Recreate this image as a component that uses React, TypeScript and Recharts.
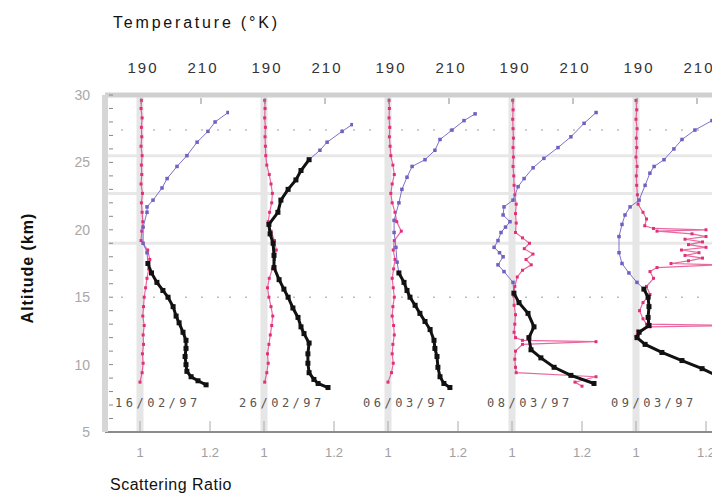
import React from "react";
import { ScatterChart, Scatter, XAxis, YAxis, ReferenceLine } from "recharts";

// one date per sounding / panel
const dates = ["16/02/97", "26/02/97", "06/03/97", "08/03/97", "09/03/97"];

const srTicks = [1, 1.2];
const tempTicks = [190, 210];
const solidGridAlts = [25.5, 22.7, 19.0];
const dottedGridAlts = [27.4, 15];

// temperature profiles (km, K)
const tempAlt1 = [28.7, 28.0, 27.3, 26.5, 25.5, 24.7, 23.8, 23.1, 22.2, 21.7, 21.3, 20.2, 19.0, 18.3, 17.5, 16.8, 16.1, 15.5, 15.0, 14.3, 13.6, 13.1, 12.4, 11.8, 11.2, 10.6, 10.0, 9.5, 9.1, 8.8, 8.5];
const temp1 = [219.0, 214.7, 212.3, 208.7, 205.3, 202.0, 198.7, 197.0, 194.0, 192.0, 192.0, 190.7, 190.7, 192.0, 192.3, 193.5, 195.3, 197.3, 199.0, 200.7, 201.7, 202.7, 204.0, 205.0, 205.0, 204.7, 205.0, 205.3, 206.7, 209.0, 211.7];

const tempAlt2 = [27.8, 27.3, 26.5, 25.9, 25.2, 24.4, 23.7, 23.0, 22.2, 21.3, 20.4, 19.7, 19.0, 18.1, 17.2, 16.3, 15.6, 15.0, 14.2, 13.5, 12.8, 12.3, 11.6, 10.8, 10.1, 9.4, 8.9, 8.6, 8.3];
const temp2 = [219.0, 215.7, 210.7, 208.3, 204.7, 202.0, 200.3, 197.7, 195.3, 194.3, 191.3, 191.7, 192.7, 193.0, 193.0, 194.7, 196.3, 197.7, 199.3, 201.0, 202.0, 203.0, 204.7, 204.3, 204.3, 204.7, 206.3, 207.7, 211.0];

const tempAlt3 = [28.6, 28.1, 27.4, 26.7, 25.9, 25.2, 24.7, 23.9, 23.0, 22.0, 20.7, 19.8, 18.7, 17.6, 16.8, 16.1, 15.5, 15.0, 14.4, 13.8, 13.2, 12.6, 11.8, 11.2, 10.6, 9.8, 9.1, 8.6, 8.3];
const temp3 = [218.7, 215.0, 211.0, 207.0, 205.3, 202.0, 197.7, 196.0, 194.3, 193.3, 191.7, 191.7, 192.3, 192.7, 193.3, 195.0, 196.0, 197.0, 198.7, 200.3, 202.0, 203.7, 205.0, 205.3, 206.0, 206.3, 207.0, 208.3, 210.3];

const tempAlt4 = [28.7, 27.9, 26.9, 26.1, 25.3, 24.6, 23.8, 23.2, 22.2, 21.7, 21.1, 20.6, 20.2, 19.8, 19.2, 18.7, 18.3, 18.0, 17.4, 16.9, 16.1, 15.3, 14.6, 13.8, 12.8, 12.0, 11.1, 10.5, 9.8, 9.2, 8.6];
const temp4 = [217.7, 213.7, 209.3, 205.0, 200.3, 196.7, 193.7, 191.7, 190.0, 187.0, 186.7, 189.0, 187.5, 186.0, 185.0, 183.7, 185.5, 186.7, 185.0, 187.0, 190.0, 190.3, 192.0, 195.0, 197.0, 195.3, 196.0, 199.3, 203.7, 209.3, 217.0];

const tempAlt5 = [28.9, 28.1, 27.4, 26.7, 26.0, 25.2, 24.7, 24.2, 23.3, 22.2, 21.7, 21.1, 20.4, 19.5, 18.3, 17.5, 16.8, 16.1, 15.6, 15.0, 14.3, 13.5, 12.9, 12.4, 12.0, 11.5, 10.9, 10.3, 9.7, 9.0, 8.5];
const temp5 = [218.3, 215.0, 209.3, 205.0, 202.3, 199.0, 195.7, 194.3, 192.7, 190.7, 187.7, 186.0, 185.0, 184.0, 184.0, 185.0, 187.3, 190.0, 192.3, 193.7, 194.0, 193.7, 194.0, 190.7, 190.0, 192.7, 198.3, 205.0, 211.7, 218.3, 223.0];

// altitude below which the temperature trace is drawn black
const coldFrom = [17.5, 25.2, 16.8, 15.3, 15.6];

// scattering ratio profiles
const srAltStd = [29.6, 29.0, 28.3, 27.6, 26.9, 26.2, 25.5, 24.8, 24.1, 23.4, 22.7, 22.0, 21.3, 20.6, 19.9, 19.2, 18.5, 17.8, 17.1, 16.4, 15.7, 15.0, 14.3, 13.6, 12.9, 12.2, 11.5, 10.8, 10.1, 9.4, 8.7];
const sr1 = [1.004, 1.003, 1.006, 1.004, 1.005, 1.003, 1.006, 1.004, 1.005, 1.003, 1.007, 1.004, 1.006, 1.008, 1.005, 1.003, 1.022, 1.028, 1.025, 1.02, 1.016, 1.012, 1.010, 1.008, 1.012, 1.009, 1.010, 1.007, 1.009, 1.006, 1.0];
const sr2 = [1.002, 1.003, 1.002, 1.004, 1.003, 1.004, 1.005, 1.008, 1.015, 1.02, 1.024, 1.022, 1.016, 1.012, 1.02, 1.03, 1.035, 1.03, 1.024, 1.015, 1.01, 1.014, 1.02, 1.025, 1.022, 1.018, 1.014, 1.01, 1.012, 1.008, 1.002];
const sr3 = [1.003, 1.004, 1.003, 1.005, 1.004, 1.006, 1.008, 1.014, 1.018, 1.012, 1.008, 1.012, 1.02, 1.025, 1.038, 1.018, 1.015, 1.02, 1.016, 1.012, 1.015, 1.018, 1.014, 1.012, 1.016, 1.018, 1.014, 1.012, 1.015, 1.01, 1.0];

const srAlt4 = [29.6, 28.9, 28.2, 27.5, 26.8, 26.1, 25.4, 24.7, 24.0, 23.3, 22.6, 21.9, 21.2, 20.5, 19.8, 19.4, 19.0, 18.6, 18.2, 17.8, 17.4, 17.0, 16.5, 15.8, 15.1, 14.4, 13.7, 13.0, 12.4, 12.0, 11.8, 11.7, 11.5, 11.0, 10.4, 9.8, 9.4, 9.1, 8.7, 8.4];
const sr4 = [1.002, 1.003, 1.002, 1.003, 1.004, 1.003, 1.004, 1.003, 1.005, 1.006, 1.008, 1.012, 1.01, 1.012, 1.01, 1.03, 1.05, 1.035, 1.06, 1.04, 1.055, 1.03, 1.015, 1.008, 1.005, 1.006, 1.01, 1.008, 1.006, 1.01, 1.03, 1.24, 1.03, 1.01, 1.008, 1.01, 1.012, 1.24, 1.18, 1.2];

const srAlt5 = [29.6, 28.9, 28.2, 27.5, 26.8, 26.1, 25.4, 24.7, 24.0, 23.3, 22.6, 21.9, 21.3, 20.8, 20.3, 20.1, 20.0, 19.9, 19.7, 19.5, 19.3, 19.1, 18.9, 18.7, 18.5, 18.3, 18.1, 17.9, 17.7, 17.5, 17.4, 17.2, 16.9, 16.4, 15.8, 15.2, 14.6, 14.0, 13.4, 13.0, 12.9, 12.8, 12.5, 12.1];
const sr5 = [1.0, 1.002, 1.0, 1.003, 1.001, 1.002, 1.0, 1.003, 1.001, 1.002, 1.004, 1.006, 1.02, 1.03, 1.025, 1.05, 1.2, 1.06, 1.16, 1.2, 1.14, 1.19, 1.15, 1.2, 1.13, 1.18, 1.14, 1.19, 1.15, 1.1, 1.23, 1.06, 1.04, 1.05, 1.03, 1.04, 1.02, 1.01, 1.02, 1.03, 1.32, 1.04, 1.005, 1.0];

const panels = [
  { tempAlt: tempAlt1, temp: temp1, srAlt: srAltStd, sr: sr1 },
  { tempAlt: tempAlt2, temp: temp2, srAlt: srAltStd, sr: sr2 },
  { tempAlt: tempAlt3, temp: temp3, srAlt: srAltStd, sr: sr3 },
  { tempAlt: tempAlt4, temp: temp4, srAlt: srAlt4, sr: sr4 },
  { tempAlt: tempAlt5, temp: temp5, srAlt: srAlt5, sr: sr5 },
];

// layout (wrapper coords, wrapper sits at the body's 8px margin)
const W = 712;
const H = 489;
const PANEL_W = 124;
const AXIS_W = 97;
const SR_DOMAIN = [0.9, 0.9 + PANEL_W / 350];
const T_DOMAIN = [178, 178 + PANEL_W / 3];
const FONT = "'Liberation Sans', Arial, sans-serif";
const altMinor = Array.from({ length: 26 }, (_, i) => 5 + i);

const PURPLE = "#7e6fcc";
const PINK = "#e2367f";

const square = (size: number, fill: string) => (p: any) =>
  <rect x={p.cx - size / 2} y={p.cy - size / 2} width={size} height={size} fill={fill} />;

const AltTick = (p: any) => (
  <g>
    <line x1={p.x + 4} x2={p.x + 8} y1={p.y} y2={p.y} stroke="#888" />
    {p.payload.value % 5 === 0 && (
      <text x={p.x - 15} y={p.y + 5} textAnchor="end" fontSize={14} fill="#a8a8a8" fontFamily={FONT}>
        {p.payload.value}
      </text>
    )}
  </g>
);

const SrTick = (p: any) => (
  <g>
    <line x1={p.x} x2={p.x} y1={p.y - 11} y2={p.y - 1} stroke="#aaa" />
    <text x={p.x} y={p.y + 25} textAnchor="middle" fontSize={13} fill="#a0a0a0" fontFamily={FONT}>
      {p.payload.value}
    </text>
  </g>
);

const TempTick = (p: any) => (
  <g>
    <line x1={p.x} x2={p.x} y1={p.y + 3} y2={p.y + 9} stroke="#888" />
    <text x={p.x + 2} y={p.y - 22} textAnchor="middle" fontSize={15} fill="#333" fontFamily={FONT} letterSpacing={2}>
      {p.payload.value}
    </text>
  </g>
);

function Panel({ index }: { index: number }) {
  const d = panels[index];
  const withAxis = index === 0;
  const width = PANEL_W + (withAxis ? AXIS_W : 0);
  const left = withAxis ? 0 : AXIS_W + PANEL_W * index;
  const tempPts = d.tempAlt.map((alt, i) => ({ alt, temp: d.temp[i] }));
  const warm = tempPts.filter((p) => p.alt >= coldFrom[index]);
  const cold = tempPts.filter((p) => p.alt <= coldFrom[index]);
  const srPts = d.srAlt.map((alt, i) => ({ alt, sr: d.sr[i] }));

  return (
    <div style={{ position: "absolute", left, top: 0 }}>
      <ScatterChart width={width} height={H} margin={{ top: 57, right: 0, bottom: 35, left: 0 }}>
        <XAxis
          xAxisId="sr"
          type="number"
          dataKey="sr"
          domain={SR_DOMAIN}
          allowDataOverflow
          ticks={srTicks}
          orientation="bottom"
          height={30}
          tickSize={0}
          tickMargin={0}
          tickLine={false}
          tick={SrTick}
          axisLine={{ stroke: "#8c8c8c", strokeWidth: 2 }}
        />
        <XAxis
          xAxisId="t"
          type="number"
          dataKey="temp"
          domain={T_DOMAIN}
          allowDataOverflow
          ticks={tempTicks}
          orientation="top"
          height={30}
          tickSize={0}
          tickMargin={0}
          tickLine={false}
          tick={TempTick}
          axisLine={{ stroke: "#d0d0d0", strokeWidth: 5 }}
        />
        <YAxis
          type="number"
          dataKey="alt"
          domain={[5, 30]}
          allowDataOverflow
          hide={!withAxis}
          width={AXIS_W}
          ticks={altMinor}
          interval={0}
          tickSize={0}
          tickMargin={0}
          tickLine={false}
          tick={AltTick}
          axisLine={{ stroke: "#d6d6d6", strokeWidth: 6 }}
        />
        {solidGridAlts.map((a) => (
          <ReferenceLine key={"s" + a} xAxisId="sr" y={a} stroke="#e8e8e8" strokeWidth={3} />
        ))}
        {dottedGridAlts.map((a) => (
          <ReferenceLine key={"d" + a} xAxisId="sr" y={a} stroke="#bdbdbd" strokeWidth={1.5} strokeDasharray="2 14" />
        ))}
        <ReferenceLine xAxisId="sr" x={1} stroke="#e6e6e6" strokeWidth={7} />
        <Scatter
          xAxisId="sr"
          data={srPts}
          line={{ stroke: PINK, strokeWidth: 1.2, strokeOpacity: 0.75 }}
          shape={square(3, "#e0307a")}
          isAnimationActive={false}
        />
        <Scatter
          xAxisId="t"
          data={warm}
          line={{ stroke: PURPLE, strokeWidth: 1 }}
          shape={square(3.5, "#6f60c2")}
          isAnimationActive={false}
        />
        <Scatter
          xAxisId="t"
          data={cold}
          line={{ stroke: "#111", strokeWidth: 3 }}
          shape={square(5, "#111")}
          isAnimationActive={false}
        />
      </ScatterChart>
    </div>
  );
}

export default function App() {
  return (
    <div style={{ position: "relative", width: W, height: H, overflow: "hidden", background: "#fff", fontFamily: FONT }}>
      {panels.map((_, i) => (
        <Panel key={i} index={i} />
      ))}
      <div style={{ position: "absolute", left: 105, top: 6, fontSize: 16, letterSpacing: 2.8, color: "#111", whiteSpace: "nowrap" }}>
        Temperature (°K)
      </div>
      <div
        style={{
          position: "absolute",
          left: 20,
          top: 260,
          transform: "translate(-50%, -50%) rotate(-90deg)",
          fontSize: 16,
          fontWeight: "bold",
          letterSpacing: 1,
          color: "#111",
          whiteSpace: "nowrap",
        }}
      >
        Altitude (km)
      </div>
      <div style={{ position: "absolute", left: 102, top: 468, fontSize: 16, letterSpacing: 0.5, color: "#111", whiteSpace: "nowrap" }}>
        Scattering Ratio
      </div>
      {dates.map((d, i) => (
        <div
          key={d + i}
          style={{
            position: "absolute",
            left: 107 + PANEL_W * i,
            top: 388,
            fontSize: 12,
            fontFamily: "'DejaVu Sans Mono', monospace",
            letterSpacing: 3.5,
            color: "#555",
            whiteSpace: "nowrap",
          }}
        >
          {d}
        </div>
      ))}
    </div>
  );
}
